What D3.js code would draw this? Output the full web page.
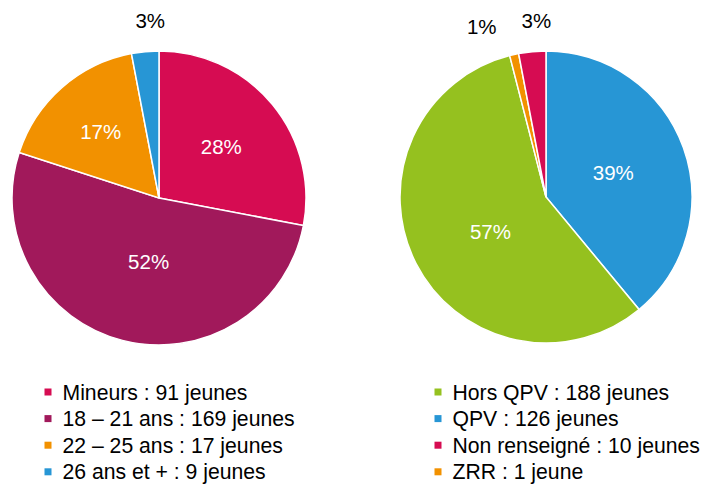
<!DOCTYPE html>
<html>
<head>
<meta charset="utf-8">
<script src="https://cdn.jsdelivr.net/npm/d3@7"></script>
<style>
  body { margin: 0; background: #fff; }
  svg { display: block; font-family: "Liberation Sans", Arial, sans-serif; }
</style>
</head>
<body>
<div id="chart"></div>
<script>
// left pie : age groups (slice order, clockwise from top)
const ageNames   = ['Mineurs', '18 – 21 ans', '22 – 25 ans', '26 ans et +'];
const agePct     = [28, 52, 17, 3];
const ageCounts  = [91, 169, 17, 9];
const ageColors  = ['#d60c52', '#a1195b', '#f29100', '#2796d5'];

// right pie : territory (slice order, clockwise from top)
const zoneNames  = ['QPV', 'Hors QPV', 'ZRR', 'Non renseigné'];
const zonePct    = [39, 57, 1, 3];
const zoneCounts = [126, 188, 1, 10];
const zoneColors = ['#2796d5', '#95c11f', '#f29100', '#d60c52'];
// legend order on the right
const zoneLegend = ['Hors QPV', 'QPV', 'Non renseigné', 'ZRR'];

const width = 707, height = 484;

const svg = d3.select('#chart').append('svg')
  .attr('width', width)
  .attr('height', height);

function drawPie(cfg) {
  const data = cfg.names.map((n, i) => ({ name: n, pct: cfg.pct[i], color: cfg.colors[i] }));
  const pie = d3.pie().sort(null).value(d => d.pct);
  const arcs = pie(data);
  const arc = d3.arc().innerRadius(0).outerRadius(cfg.r);

  const g = svg.append('g')
    .attr('transform', `translate(${cfg.cx},${cfg.cy})`);

  g.selectAll('path.slice')
    .data(arcs)
    .enter().append('path')
      .attr('class', 'slice')
      .attr('d', arc)
      .attr('fill', d => d.data.color)
      .attr('stroke', '#fff')
      .attr('stroke-width', 1.5);

  g.selectAll('text.pct')
    .data(arcs)
    .enter().append('text')
      .attr('class', 'pct')
      .each(function(d, i) {
        const k = cfg.labelR[i];
        const a = (d.startAngle + d.endAngle) / 2 + (cfg.labelShift[i] || 0);
        d3.select(this)
          .attr('x', Math.sin(a) * cfg.r * k)
          .attr('y', -Math.cos(a) * cfg.r * k);
      })
      .attr('text-anchor', 'middle')
      .attr('dominant-baseline', 'central')
      .style('font-size', '20.5px')
      .attr('fill', (d, i) => cfg.labelR[i] > 1 ? '#000' : '#fff')
      .text(d => d.data.pct + '%');
}

drawPie({
  names: ageNames, pct: agePct, colors: ageColors,
  cx: 159, cy: 198, r: 147,
  labelR: [0.55, 0.44, 0.6, 1.21],
  labelShift: [0, -0.09, 0, 0.045]
});

drawPie({
  names: zoneNames, pct: zonePct, colors: zoneColors,
  cx: 546, cy: 197, r: 146,
  labelR: [0.49, 0.45, 1.25, 1.21],
  labelShift: [0, -0.09, -0.14, 0.04]
});

function drawLegend(x, y0, labels, colorOf) {
  const g = svg.append('g').attr('transform', `translate(${x},${y0})`);
  const rows = g.selectAll('g.row')
    .data(labels)
    .enter().append('g')
      .attr('class', 'row')
      .attr('transform', (d, i) => `translate(0,${i * 26.6})`);
  rows.append('rect')
    .attr('x', -3.5).attr('y', -3.5)
    .attr('width', 7).attr('height', 7)
    .attr('fill', d => colorOf(d));
  rows.append('text')
    .attr('x', 14.5)
    .attr('dominant-baseline', 'central')
    .style('font-size', '21.2px')
    .attr('fill', '#000')
    .text(d => d);
}

const ageLabels = ageNames.map((n, i) => `${n} : ${ageCounts[i]} jeunes`);
drawLegend(48, 392, ageLabels, d => ageColors[ageLabels.indexOf(d)]);

const zoneLabels = zoneLegend.map(n => {
  const c = zoneCounts[zoneNames.indexOf(n)];
  return `${n} : ${c} ${c > 1 ? 'jeunes' : 'jeune'}`;
});
drawLegend(438, 392, zoneLabels, d => zoneColors[zoneNames.indexOf(zoneLegend[zoneLabels.indexOf(d)])]);
</script>
</body>
</html>
